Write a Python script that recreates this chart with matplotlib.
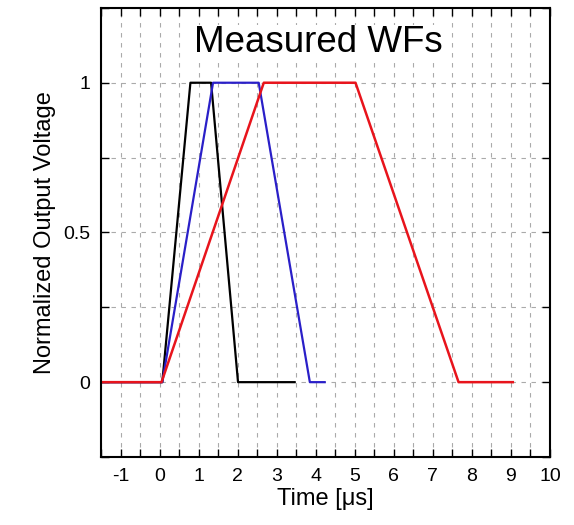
import matplotlib
matplotlib.use("Agg")
import matplotlib.pyplot as plt
import numpy as np
from matplotlib.ticker import MultipleLocator

plt.rcParams['font.family'] = ['Liberation Sans', 'DejaVu Sans']

# Waveform data (time in µs, normalized voltage)
black_t = [-1.5, 0.07, 0.79, 1.32, 2.01, 3.46]
black_v = [0, 0, 1, 1, 0, 0]
blue_t = [-1.5, 0.07, 1.37, 2.54, 3.85, 4.23]
blue_v = [0, 0, 1, 1, 0, 0]
red_t = [-1.5, 0.05, 2.67, 5.02, 7.66, 9.05]
red_v = [0, 0, 1, 1, 0, 0]

xticks = list(range(-1, 11))
yticks = [0, 0.5, 1]

fig = plt.figure(figsize=(5.74, 5.25), dpi=100)
ax = fig.add_axes([0.176, 0.1295, 0.782, 0.8555])

ax.plot(black_t, black_v, color='black', lw=1.6)
ax.plot(blue_t, blue_v, color='#2a1fc8', lw=1.6)
ax.plot(red_t, red_v, color='#e8141c', lw=1.8)

ax.set_xlim(-1.5, 10)
ax.set_ylim(-0.25, 1.25)
ax.set_xticks(xticks)
ax.set_xticklabels([str(t) for t in xticks])
ax.xaxis.set_minor_locator(MultipleLocator(0.5))
ax.set_yticks(yticks)
ax.set_yticklabels(['0', '0.5', '1'])
ax.yaxis.set_minor_locator(MultipleLocator(0.25))

ax.grid(True, which='both', color='#aaaaaa', linestyle=(0, (4, 5)), lw=0.8)
ax.tick_params(which='both', direction='in', top=True, right=True, length=6, width=1, labelsize=14, pad=8)
for s in ax.spines.values():
    s.set_linewidth(1.5)

ax.set_xlabel('Time [\u03bcs]', fontsize=17, labelpad=2)
ax.set_ylabel('Normalized Output Voltage', fontsize=17, labelpad=5)
ax.text(0.485, 0.922, 'Measured WFs', transform=ax.transAxes, ha='center', va='center', fontsize=26.5,
        bbox=dict(facecolor='white', edgecolor='none', pad=0))

fig.savefig('out.png', dpi=100)
